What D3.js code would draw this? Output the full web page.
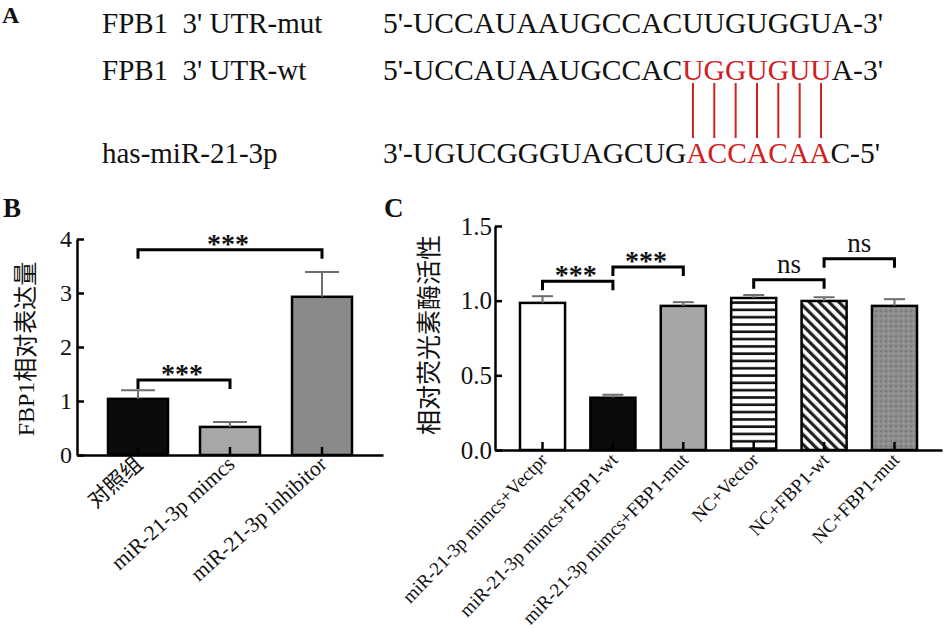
<!DOCTYPE html>
<html>
<head>
<meta charset="utf-8">
<script src="https://cdn.jsdelivr.net/npm/d3@7.9.0/dist/d3.min.js"></script>
<style>
  body { margin: 0; background: #fff; }
  svg { display: block; }
  svg text { font-family: "Liberation Serif", "DejaVu Serif", "Noto Sans CJK SC", serif; fill: #111; }
  .panel { font-weight: bold; font-size: 27px; }
  .axis path, .axis line { stroke: #000; stroke-width: 2.5; }
  .axis text { font-size: 24px; }
</style>
</head>
<body>
<svg id="fig" width="945" height="629"></svg>
<script>
// panel A: sequences
const seqNames = ["FPB1  3' UTR-mut", "FPB1  3' UTR-wt", "has-miR-21-3p"];
const seqLeft = ["5'-UCCAUAAUGCCACUUGUGGUA-3'", "5'-UCCAUAAUGCCAC", "3'-UGUCGGGUAGCUG"];
const seqPair = ["", "UGGUGUU", "ACCACAA"];
const seqRight = ["", "A-3'", "C-5'"];

// panel B: FBP1 expression
const bGroups = ["对照组", "miR-21-3p mimcs", "miR-21-3p inhibitor"];
const bMeans = [1.04, 0.52, 2.93];
const bErrors = [0.16, 0.09, 0.46];
const bTicks = [0, 1, 2, 3, 4];
const bSig = [[0, 2, 3.8, "***"], [0, 1, 1.39, "***"]];

// panel C: luciferase activity
const cGroups = ["miR-21-3p mimcs+Vectpr", "miR-21-3p mimcs+FBP1-wt", "miR-21-3p mimcs+FBP1-mut",
                 "NC+Vector", "NC+FBP1-wt", "NC+FBP1-mut"];
const cMeans = [0.985, 0.35, 0.965, 1.018, 0.998, 0.965];
const cErrors = [0.045, 0.02, 0.025, 0.02, 0.025, 0.045];
const cTicks = [0, 0.5, 1.0, 1.5];
const cSig = [[0, 1, 1.13, "***"], [1, 2, 1.225, "***"], [3, 4, 1.14, "ns"], [4, 5, 1.28, "ns"]];

const svg = d3.select("#fig");
const red = "#d0201f";

// ---- panel A
const rowY = [33, 80, 163];
const rowLen = [500, 500, 497];
svg.append("text").attr("class", "panel").attr("x", 2).attr("y", 23).style("font-size", "24px").text("A");
const seqTexts = [];
seqNames.forEach((name, i) => {
  svg.append("text").attr("x", 102).attr("y", rowY[i])
    .style("font-size", "29px").style("white-space", "pre").text(name);
  const t = svg.append("text").attr("x", 383).attr("y", rowY[i]).style("font-size", "29px")
    .attr("textLength", rowLen[i]).attr("lengthAdjust", "spacingAndGlyphs");
  t.append("tspan").text(seqLeft[i]);
  t.append("tspan").style("fill", red).text(seqPair[i]);
  t.append("tspan").text(seqRight[i]);
  seqTexts.push(t.node());
});
// pairing lines under each red base of the wt row
const wt = seqTexts[1];
d3.range(seqPair[1].length).forEach(k => {
  const ext = wt.getExtentOfChar(seqLeft[1].length + k);
  const cx = ext.x + ext.width / 2;
  svg.append("line").attr("x1", cx).attr("x2", cx)
    .attr("y1", rowY[1] + 3).attr("y2", rowY[2] - 25)
    .attr("stroke", red).attr("stroke-width", 2);
});

// ---- patterns for panel C
const defs = svg.append("defs");
const ph = defs.append("pattern").attr("id", "hstripe").attr("patternUnits", "userSpaceOnUse")
  .attr("width", 10).attr("height", 7.3);
ph.append("rect").attr("width", 10).attr("height", 7.3).attr("fill", "#fff");
ph.append("rect").attr("y", 2).attr("width", 10).attr("height", 2.6).attr("fill", "#111");
const pd = defs.append("pattern").attr("id", "dstripe").attr("patternUnits", "userSpaceOnUse")
  .attr("width", 7).attr("height", 10).attr("patternTransform", "rotate(-45)");
pd.append("rect").attr("width", 7).attr("height", 10).attr("fill", "#fff");
pd.append("rect").attr("width", 3.2).attr("height", 10).attr("fill", "#222");
const ps = defs.append("pattern").attr("id", "speck").attr("patternUnits", "userSpaceOnUse")
  .attr("width", 5).attr("height", 5);
ps.append("rect").attr("width", 5).attr("height", 5).attr("fill", "#8d8d8d");
ps.append("circle").attr("cx", 1).attr("cy", 1.2).attr("r", 0.7).attr("fill", "#5c5c5c");
ps.append("circle").attr("cx", 3.6).attr("cy", 3.4).attr("r", 0.7).attr("fill", "#a9a9a9");

const bFills = ["#0b0b0b", "#a7a7a7", "#8a8a8a"];
const cFills = ["#fff", "#0b0b0b", "#a6a6a8", "url(#hstripe)", "url(#dstripe)", "url(#speck)"];

function drawPanel(cfg) {
  const g = svg.append("g");
  const x = d3.scaleBand().domain(cfg.groups).range(cfg.xRange)
    .paddingInner(cfg.padIn).paddingOuter(cfg.padOut);
  const y = d3.scaleLinear().domain(cfg.yDomain).range(cfg.yRange);
  const bw = x.bandwidth();
  const cx = i => x(cfg.groups[i]) + bw / 2;

  // bars
  g.selectAll("rect.bar").data(cfg.means).join("rect").attr("class", "bar")
    .attr("x", (d, i) => x(cfg.groups[i]))
    .attr("y", d => y(d))
    .attr("width", bw)
    .attr("height", d => y(0) - y(d))
    .attr("fill", (d, i) => cfg.fills[i])
    .attr("stroke", "#000").attr("stroke-width", 2.5);

  // error bars (upper only)
  cfg.means.forEach((m, i) => {
    const top = y(m + cfg.errors[i]);
    g.append("line").attr("x1", cx(i)).attr("x2", cx(i))
      .attr("y1", y(m)).attr("y2", top).attr("stroke", "#6e6e6e").attr("stroke-width", 2);
    g.append("line").attr("x1", cx(i) - cfg.cap / 2).attr("x2", cx(i) + cfg.cap / 2)
      .attr("y1", top).attr("y2", top).attr("stroke", "#6e6e6e").attr("stroke-width", 2);
  });

  // axes with inward ticks
  const ya = g.append("g").attr("class", "axis").attr("transform", `translate(${cfg.xRange[0]},0)`)
    .call(d3.axisLeft(y).tickValues(cfg.ticks).tickSize(-7).tickSizeOuter(0)
      .tickPadding(cfg.tickPad).tickFormat(cfg.fmt));
  ya.attr("font-family", null);
  ya.selectAll("text").style("font-size", cfg.tickFont + "px");
  g.append("g").attr("class", "axis").attr("transform", `translate(0,${y(0)})`)
    .call(d3.axisBottom(x).tickSize(-8).tickSizeOuter(0).tickFormat(""));

  // rotated category labels
  g.selectAll("text.cat").data(cfg.groups).join("text").attr("class", "cat")
    .attr("text-anchor", "end")
    .attr("transform", (d, i) => `translate(${cx(i) + cfg.labDx},${y(0) + 11}) rotate(${cfg.angle})`)
    .style("font-size", cfg.catFont + "px")
    .text(d => d);

  // y label
  g.append("text").attr("text-anchor", "middle")
    .attr("transform", `translate(${cfg.yLabelX},${(cfg.yRange[0] + cfg.yRange[1]) / 2 + cfg.yLabelShift}) rotate(-90)`)
    .style("font-size", cfg.yLabelFont + "px")
    .text(cfg.yLabel);

  // significance brackets
  cfg.sig.forEach(([a, b, v, lab]) => {
    const yy = y(v);
    g.append("path")
      .attr("d", `M${cx(a)},${yy + 9}V${yy}H${cx(b)}V${yy + 9}`)
      .attr("fill", "none").attr("stroke", "#000").attr("stroke-width", 3);
    const t = g.append("text").attr("text-anchor", "middle")
      .attr("x", (cx(a) + cx(b)) / 2);
    if (lab === "ns") {
      t.attr("y", yy - 7).style("font-size", "27px").text(lab);
    } else {
      t.attr("y", yy + 3).style("font-size", "28px").style("font-weight", "bold")
        .attr("x", (cx(a) + cx(b)) / 2 - 2).text(lab);
    }
  });

  svg.append("text").attr("class", "panel").attr("x", cfg.letterX).attr("y", 217).text(cfg.letter);
}

drawPanel({
  letter: "B", letterX: 3,
  groups: bGroups, means: bMeans, errors: bErrors, ticks: bTicks, sig: bSig, fills: bFills,
  xRange: [77, 383], padIn: 0.348, padOut: 0.337,
  yDomain: [0, 4], yRange: [455, 239], fmt: d3.format("d"), tickPad: 5, tickFont: 24,
  cap: 34, yLabel: "FBP1相对表达量", yLabelX: 34, yLabelShift: 2, yLabelFont: 24,
  angle: -42, catFont: 21.5, labDx: 6
});

drawPanel({
  letter: "C", letterX: 384,
  groups: cGroups, means: cMeans, errors: cErrors, ticks: cTicks, sig: cSig, fills: cFills,
  xRange: [495, 942], padIn: 0.36, padOut: 0.355,
  yDomain: [0, 1.5], yRange: [450, 226], fmt: d3.format(".1f"), tickPad: 3, tickFont: 25,
  cap: 21, yLabel: "相对荧光素酶活性", yLabelX: 438, yLabelShift: -3, yLabelFont: 25,
  angle: -46, catFont: 19, labDx: 6
});
</script>
</body>
</html>
